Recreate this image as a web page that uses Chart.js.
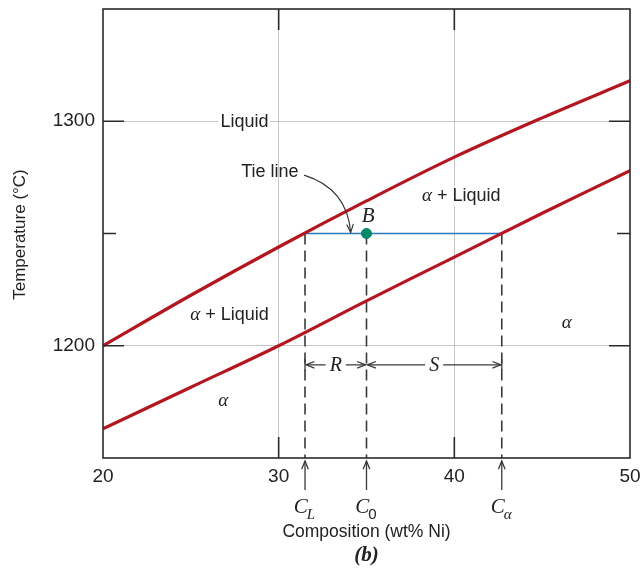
<!DOCTYPE html>
<html>
<head>
<meta charset="utf-8">
<script src="https://cdn.jsdelivr.net/npm/chart.js@4.4.0/dist/chart.umd.min.js"></script>
<style>
  html, body { margin: 0; padding: 0; background: #fff; }
  #phase { display: block; }
</style>
</head>
<body>
<canvas id="phase" width="641" height="572"></canvas>
<script>
// composition (wt% Ni) and the two phase boundaries
var compositions = [20, 25, 30, 35, 40, 45, 50];
var liquidus_temps = [1200, 1222.5, 1244, 1264.5, 1284, 1301.5, 1318];
var solidus_temps = [1163, 1181.5, 1200, 1220, 1239.5, 1259, 1278];

var x_labels = [20, 30, 40, 50];
var y_labels = [1200, 1300];
var x_min = 20, x_max = 50;
var y_min = 1150, y_max = 1350;

// tie line at point B
var tie_temp = 1250;
var c_liquid = 31.5;
var c_zero = 35;
var c_alpha = 42.7;
var dim_temp = 1191.5;

var sans = '"Liberation Sans", Arial, sans-serif';
var serif = '"Liberation Serif", "DejaVu Serif", serif';
var red = 'rgb(180, 22, 32)';
var grid_gray = '#c6c6c6';
var ink = '#2b2b2b';

function to_points(xs, ys) {
    var pts = [];
    for (var i = 0; i < xs.length; i++) pts.push({x: xs[i], y: ys[i]});
    return pts;
}

function drop_line(xv) {
    return {
        data: [{x: xv, y: tie_temp}, {x: xv, y: y_min}],
        borderColor: '#3a3a3a',
        borderWidth: 1.6,
        borderDash: [11, 6],
        pointRadius: 0,
        showLine: true,
        order: 5
    };
}

function arrow_head(ctx, x, y, ang, len) {
    ctx.beginPath();
    ctx.moveTo(x + len * Math.cos(ang + 0.38), y + len * Math.sin(ang + 0.38));
    ctx.lineTo(x, y);
    ctx.lineTo(x + len * Math.cos(ang - 0.38), y + len * Math.sin(ang - 0.38));
    ctx.stroke();
}

function boxed_text(ctx, text, x, y, font) {
    ctx.font = font;
    var w = ctx.measureText(text).width;
    ctx.fillStyle = '#fff';
    ctx.fillRect(x - w / 2 - 2, y - 10, w + 4, 20);
    ctx.fillStyle = '#222';
    ctx.textAlign = 'center';
    ctx.textBaseline = 'middle';
    ctx.fillText(text, x, y);
}

function alpha_liquid(ctx, x, y) {
    var f1 = 'italic 19px ' + serif, f2 = '18px ' + sans;
    ctx.font = f1;
    var w1 = ctx.measureText('\u03b1').width;
    ctx.font = f2;
    var w2 = ctx.measureText(' + Liquid').width;
    var x0 = x - (w1 + w2) / 2;
    ctx.fillStyle = '#fff';
    ctx.fillRect(x0 - 2, y - 10, w1 + w2 + 4, 20);
    ctx.fillStyle = '#222';
    ctx.textAlign = 'left';
    ctx.textBaseline = 'middle';
    ctx.font = f1;
    ctx.fillText('\u03b1', x0, y);
    ctx.font = f2;
    ctx.fillText(' + Liquid', x0 + w1, y);
}

function c_label(ctx, x, y, sub, sub_font) {
    var f1 = 'italic 21px ' + serif;
    ctx.font = f1;
    var w1 = ctx.measureText('C').width;
    ctx.font = sub_font;
    var w2 = ctx.measureText(sub).width;
    var x0 = x - (w1 + w2) / 2;
    ctx.fillStyle = '#222';
    ctx.textAlign = 'left';
    ctx.textBaseline = 'alphabetic';
    ctx.font = f1;
    ctx.fillText('C', x0, y);
    ctx.font = sub_font;
    ctx.fillText(sub, x0 + w1 - 1, y + 6);
}

var notes_plugin = {
    id: 'phase_notes',
    afterDraw: function (chart) {
        var ctx = chart.ctx, xs = chart.scales.x, ys = chart.scales.y, a = chart.chartArea;
        ctx.save();

        // frame and inward ticks
        ctx.strokeStyle = ink;
        ctx.lineWidth = 1.6;
        ctx.strokeRect(a.left, a.top, a.right - a.left, a.bottom - a.top);
        ctx.beginPath();
        [1200, 1250, 1300].forEach(function (v) {
            var py = ys.getPixelForValue(v), len = v === 1250 ? 13 : 21;
            ctx.moveTo(a.left, py); ctx.lineTo(a.left + len, py);
            ctx.moveTo(a.right, py); ctx.lineTo(a.right - len, py);
        });
        [30, 40].forEach(function (v) {
            var px = xs.getPixelForValue(v);
            ctx.moveTo(px, a.top); ctx.lineTo(px, a.top + 21);
            ctx.moveTo(px, a.bottom); ctx.lineTo(px, a.bottom - 21);
        });
        ctx.stroke();

        // arrows under the axis
        ctx.strokeStyle = '#3a3a3a';
        ctx.lineWidth = 1.3;
        [c_liquid, c_zero, c_alpha].forEach(function (v) {
            var px = xs.getPixelForValue(v);
            ctx.beginPath();
            ctx.moveTo(px, a.bottom + 3); ctx.lineTo(px, a.bottom + 32);
            ctx.stroke();
            arrow_head(ctx, px, a.bottom + 3, Math.PI / 2, 9);
        });

        // R and S dimension lines
        var dy = ys.getPixelForValue(dim_temp);
        ctx.font = 'italic 20px ' + serif;
        [[c_liquid, c_zero, 'R'], [c_zero, c_alpha, 'S']].forEach(function (d) {
            var p1 = xs.getPixelForValue(d[0]), p2 = xs.getPixelForValue(d[1]);
            var mid = (p1 + p2) / 2, half = ctx.measureText(d[2]).width / 2 + 4;
            ctx.beginPath();
            ctx.moveTo(p1 + 1, dy); ctx.lineTo(mid - half, dy);
            ctx.moveTo(mid + half, dy); ctx.lineTo(p2 - 1, dy);
            ctx.stroke();
            arrow_head(ctx, p1 + 1, dy, 0, 9);
            arrow_head(ctx, p2 - 1, dy, Math.PI, 9);
            ctx.fillStyle = '#222';
            ctx.textAlign = 'center';
            ctx.textBaseline = 'middle';
            ctx.fillText(d[2], mid, dy + 1);
        });
        // end bars of the dimension line
        ctx.beginPath();
        [c_liquid, c_alpha].forEach(function (v) {
            var px = xs.getPixelForValue(v);
            ctx.moveTo(px, dy - 6); ctx.lineTo(px, dy + 6);
        });
        ctx.stroke();

        // region labels
        boxed_text(ctx, 'Liquid', xs.getPixelForValue(28.05), ys.getPixelForValue(1299.5), '18px ' + sans);
        alpha_liquid(ctx, xs.getPixelForValue(40.4), ys.getPixelForValue(1266.5));
        alpha_liquid(ctx, xs.getPixelForValue(27.2), ys.getPixelForValue(1213.5));
        ctx.font = 'italic 19px ' + serif;
        ctx.fillStyle = '#222';
        ctx.textAlign = 'center';
        ctx.textBaseline = 'middle';
        ctx.fillText('\u03b1', xs.getPixelForValue(26.85), ys.getPixelForValue(1175.5));
        ctx.fillText('\u03b1', xs.getPixelForValue(46.4), ys.getPixelForValue(1210));
        ctx.font = 'italic 21px ' + serif;
        ctx.fillText('B', xs.getPixelForValue(c_zero + 0.1), ys.getPixelForValue(tie_temp) - 17);

        // tie line callout
        ctx.font = '18px ' + sans;
        ctx.fillText('Tie line', xs.getPixelForValue(29.5), ys.getPixelForValue(1277.5));
        var sx = xs.getPixelForValue(31.45), sy = ys.getPixelForValue(1276);
        var cx = xs.getPixelForValue(33.9), cy = ys.getPixelForValue(1270);
        var tx = xs.getPixelForValue(34.1), ty = ys.getPixelForValue(tie_temp) - 1;
        ctx.strokeStyle = '#333';
        ctx.lineWidth = 1.1;
        ctx.beginPath();
        ctx.moveTo(sx, sy);
        ctx.quadraticCurveTo(cx, cy, tx, ty);
        ctx.stroke();
        arrow_head(ctx, tx, ty, Math.atan2(cy - ty, cx - tx), 9);

        // composition markers
        c_label(ctx, xs.getPixelForValue(c_liquid), a.bottom + 55, 'L', 'italic 15px ' + serif);
        c_label(ctx, xs.getPixelForValue(c_zero), a.bottom + 55, '0', '15px ' + sans);
        c_label(ctx, xs.getPixelForValue(c_alpha), a.bottom + 55, '\u03b1', 'italic 15px ' + serif);

        // axis titles
        ctx.fillStyle = '#222';
        ctx.textAlign = 'center';
        ctx.textBaseline = 'middle';
        ctx.font = '17.5px ' + sans;
        ctx.fillText('Composition (wt% Ni)', (a.left + a.right) / 2, 532);
        ctx.font = 'bold italic 21px ' + serif;
        ctx.fillText('(b)', (a.left + a.right) / 2, 556);
        ctx.translate(20, (a.top + a.bottom) / 2 + 1);
        ctx.rotate(-Math.PI / 2);
        ctx.font = '17px ' + sans;
        ctx.fillText('Temperature (\u00b0C)', 0, 0);
        ctx.restore();
    }
};

var config = {
    type: 'scatter',
    data: {
        datasets: [
            {
                label: 'Liquidus',
                data: to_points(compositions, liquidus_temps),
                borderColor: red,
                borderWidth: 3.2,
                pointRadius: 0,
                showLine: true,
                tension: 0.35,
                order: 1
            },
            {
                label: 'Solidus',
                data: to_points(compositions, solidus_temps),
                borderColor: red,
                borderWidth: 3.2,
                pointRadius: 0,
                showLine: true,
                tension: 0.35,
                order: 1
            },
            {
                label: 'Tie line',
                data: [{x: c_liquid, y: tie_temp}, {x: c_alpha, y: tie_temp}],
                borderColor: 'rgb(40, 122, 190)',
                borderWidth: 1.6,
                pointRadius: 0,
                showLine: true,
                order: 3
            },
            {
                label: 'B',
                data: [{x: c_zero, y: tie_temp}],
                backgroundColor: 'rgb(0, 138, 106)',
                borderColor: 'rgb(0, 138, 106)',
                pointRadius: 5,
                order: 0
            },
            drop_line(c_liquid),
            drop_line(c_zero),
            drop_line(c_alpha)
        ]
    },
    options: {
        responsive: false,
        animation: false,
        devicePixelRatio: 1,
        layout: {padding: {left: 0, right: 11, top: 9, bottom: 0}},
        plugins: {legend: {display: false}, tooltip: {enabled: false}},
        scales: {
            x: {
                type: 'linear',
                min: x_min,
                max: x_max,
                afterFit: function (scale) {
                    scale.height = 114;
                    scale.paddingLeft = 0;
                    scale.paddingRight = 0;
                },
                border: {display: false},
                grid: {
                    drawTicks: false,
                    lineWidth: 1,
                    color: function (c) { return (c.tick.value === 30 || c.tick.value === 40) ? grid_gray : 'rgba(0,0,0,0)'; }
                },
                ticks: {
                    stepSize: 10,
                    padding: 7,
                    color: '#222',
                    font: {family: sans, size: 19},
                    callback: function (v) { return x_labels.indexOf(v) >= 0 ? String(v) : ''; }
                }
            },
            y: {
                type: 'linear',
                min: y_min,
                max: y_max,
                afterFit: function (scale) {
                    scale.width = 103;
                    scale.paddingTop = 0;
                    scale.paddingBottom = 0;
                },
                border: {display: false},
                grid: {
                    drawTicks: false,
                    lineWidth: 1,
                    color: function (c) { return y_labels.indexOf(c.tick.value) >= 0 ? grid_gray : 'rgba(0,0,0,0)'; }
                },
                ticks: {
                    stepSize: 50,
                    padding: 8,
                    color: '#222',
                    font: {family: sans, size: 19},
                    callback: function (v) { return y_labels.indexOf(v) >= 0 ? String(v) : ''; }
                }
            }
        }
    },
    plugins: [notes_plugin]
};

var chart = new Chart(document.getElementById('phase').getContext('2d'), config);
</script>
</body>
</html>
